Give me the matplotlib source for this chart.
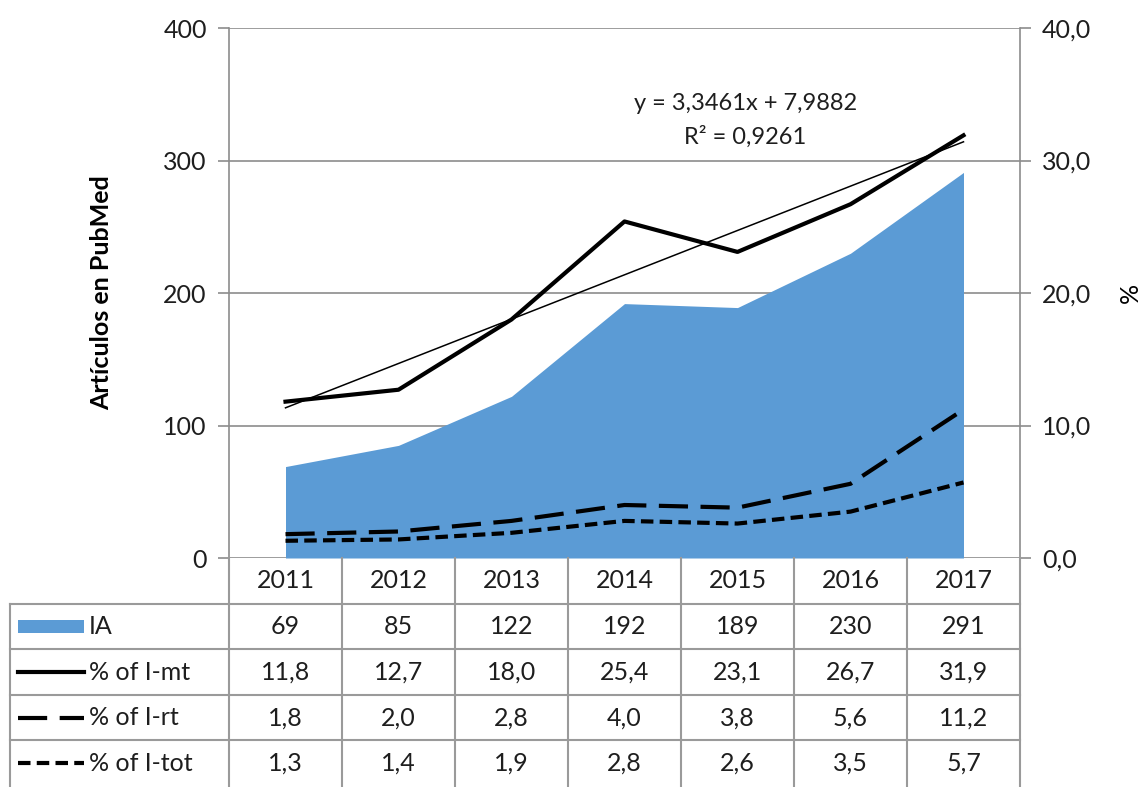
import numpy as np
import matplotlib.pyplot as plt
from matplotlib.patches import Rectangle

years = ['2011', '2012', '2013', '2014', '2015', '2016', '2017']
ia = [69, 85, 122, 192, 189, 230, 291]
pct_mt = [11.8, 12.7, 18.0, 25.4, 23.1, 26.7, 31.9]
pct_rt = [1.8, 2.0, 2.8, 4.0, 3.8, 5.6, 11.2]
pct_tot = [1.3, 1.4, 1.9, 2.8, 2.6, 3.5, 5.7]
# trendline of % of I-mt as shown on the chart
slope, intercept = 3.3461, 7.9882
r2 = 0.9261

plt.rcParams['font.family'] = ['Lato', 'DejaVu Sans']
grey = '#8c8c8c'
blue = '#5b9bd5'
txt = '#1e1e1e'

W, H = 1142, 787
fig = plt.figure(figsize=(W/100, H/100), dpi=100)

# pixel geometry of the plot area
px_l, px_r, px_t, px_b = 229, 1020, 28, 558
ax = fig.add_axes([px_l/W, 1-px_b/H, (px_r-px_l)/W, (px_b-px_t)/H])
n = len(years)
x = np.arange(n)
ax.set_xlim(-0.5, n-0.5)
ax.set_ylim(0, 400)

#IA area on the left axis
ax.fill_between(x, ia, color=blue, lw=0, zorder=1)
ax.set_yticks([0, 100, 200, 300, 400])
ax.yaxis.grid(True, color=grey, lw=1.2, zorder=0)
ax.set_axisbelow(True)
ax.set_xticks([])
for s in ['top', 'right', 'bottom']:
    ax.spines[s].set_visible(False)
ax.spines['left'].set_color(grey)
ax.spines['left'].set_linewidth(1.2)
ax.tick_params(axis='y', colors=grey, labelcolor=txt, labelsize=18, length=8, width=1.2, pad=8)
ax.set_ylabel('Artículos en PubMed', fontsize=18, fontweight='bold', labelpad=36)

#percentages on the right axis
ax2 = ax.twinx()
ax2.set_ylim(0, 40)
ax2.set_yticks([0, 10, 20, 30, 40])
ax2.set_yticklabels([('%.1f' % v).replace('.', ',') for v in [0, 10, 20, 30, 40]])
for s in ['top', 'left', 'bottom']:
    ax2.spines[s].set_visible(False)
ax2.spines['right'].set_color(grey)
ax2.spines['right'].set_linewidth(1.2)
ax2.tick_params(axis='y', colors=grey, labelcolor=txt, labelsize=18, length=8, width=1.2, pad=8)
ax2.set_ylabel('%', fontsize=18, rotation=90, labelpad=20)

ax2.plot(x, pct_mt, color='black', lw=3, solid_joinstyle='round')
ax2.plot(x, pct_rt, color='black', lw=3, dashes=(7, 3))
ax2.plot(x, pct_tot, color='black', lw=3, dashes=(3, 1.5))
trend = slope*(x+1) + intercept
ax2.plot(x, trend, color='black', lw=1.1)
ax2.text(4.07, 34.3, 'y = %sx + %s' % (str(slope).replace('.', ','), str(intercept).replace('.', ',')),
         ha='center', va='center', fontsize=17, color=txt)
ax2.text(4.07, 31.8, 'R² = ' + str(r2).replace('.', ','), ha='center', va='center', fontsize=17, color=txt)

# data table under the chart
tab_l = 10
unit = (px_r-px_l)/n
tx0 = -0.5 - (px_l-tab_l)/unit
tax = fig.add_axes([tab_l/W, 0, (px_r-tab_l)/W, (H-px_b)/H])
tax.set_xlim(tx0, n-0.5)
row_h = 45.6
nrows = (H-px_b)/row_h
tax.set_ylim(nrows, 0)
tax.axis('off')
lc = '#9a9a9a'
lw = 1.5
for r in range(1, 5):
    tax.plot([tx0, n-0.5], [r, r], color=lc, lw=lw, clip_on=False)
for c in range(n+1):
    tax.plot([c-0.5, c-0.5], [0, nrows], color=lc, lw=lw, clip_on=False)
tax.plot([tx0, tx0], [1, nrows], color=lc, lw=lw, clip_on=False)

for i, yr in enumerate(years):
    tax.text(i, 0.5, yr, ha='center', va='center', fontsize=18, color=txt)

rows = [ia, pct_mt, pct_rt, pct_tot]
names = ['IA', '% of I-mt', '% of I-rt', '% of I-tot']
for r, (vals, name) in enumerate(zip(rows, names)):
    yc = r + 1.5
    for i, v in enumerate(vals):
        s = str(v) if r == 0 else ('%.1f' % v).replace('.', ',')
        tax.text(i, yc, s, ha='center', va='center', fontsize=18, color=txt)
    tax.text(tx0 + 79/unit, yc, name, ha='left', va='center', fontsize=18, color=txt)

#legend keys in the first column
k0, k1 = tx0 + 8/unit, tx0 + 74/unit
tax.add_patch(Rectangle((k0, 1.36), k1-k0, 0.28, color=blue, lw=0))
tax.plot([k0, k1], [2.5, 2.5], color='black', lw=3)
tax.plot([k0, k1], [3.5, 3.5], color='black', lw=3, dashes=(7, 3))
tax.plot([k0, k1], [4.5, 4.5], color='black', lw=3, dashes=(3, 1.5))

fig.savefig('out.png', dpi=100)
